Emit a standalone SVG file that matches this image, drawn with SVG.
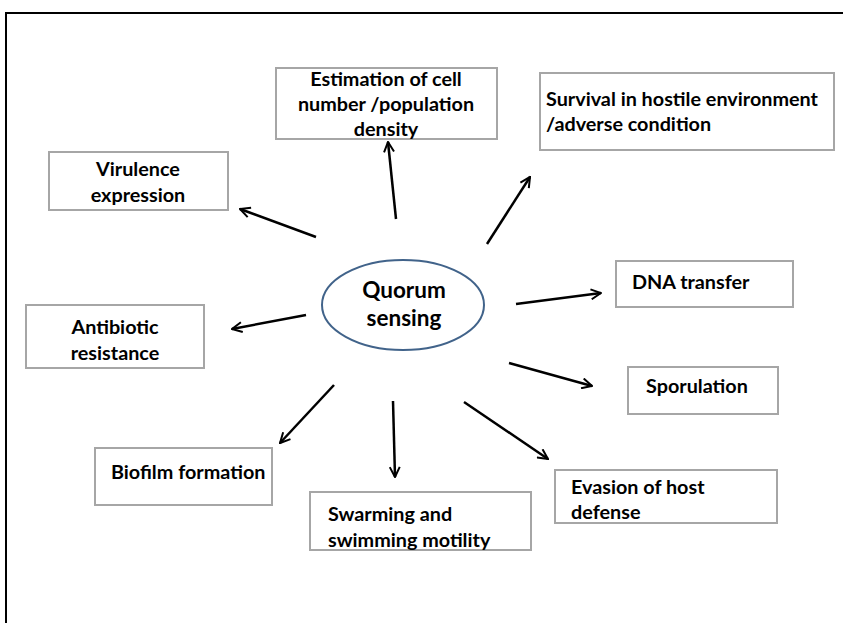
<svg xmlns="http://www.w3.org/2000/svg" width="843" height="623" viewBox="0 0 843 623">
<defs>
<style>
.box{fill:#fff;stroke:#a6a6a6;stroke-width:2}
.t{font-family:Lato,"Open Sans",sans-serif;font-weight:bold;font-size:19.8px;fill:#000}
.q{font-size:22.5px}
.c{text-anchor:middle}
.arr{stroke:#000;stroke-width:2.5;fill:none;marker-end:url(#ah)}
</style>
<marker id="ah" viewBox="0 0 12 12" refX="11" refY="6" markerWidth="12" markerHeight="12" markerUnits="userSpaceOnUse" orient="auto">
<path d="M1,1 L11,6 L1,11" fill="none" stroke="#000" stroke-width="2"/>
</marker>
</defs>
<rect width="843" height="623" fill="#fff"/>
<path d="M6,623 L6,13 L843,13" fill="none" stroke="#000" stroke-width="2"/>
<g id="connectors">
<line class="arr" x1="396" y1="219" x2="388" y2="142"/>
<line class="arr" x1="487" y1="244" x2="530" y2="177"/>
<line class="arr" x1="316" y1="237" x2="240" y2="209"/>
<line class="arr" x1="516" y1="304" x2="601" y2="293"/>
<line class="arr" x1="306" y1="315" x2="232" y2="329"/>
<line class="arr" x1="509" y1="363" x2="592" y2="386"/>
<line class="arr" x1="334" y1="385" x2="280" y2="443"/>
<line class="arr" x1="393" y1="401" x2="395" y2="477"/>
<line class="arr" x1="464" y1="402" x2="548" y2="459"/>
</g>
<g id="quorum">
<ellipse cx="403" cy="305" rx="81" ry="45" fill="#fff" stroke="#41638a" stroke-width="2"/>
<text class="t q c" x="404" y="298">Quorum</text>
<text class="t q c" x="404" y="326">sensing</text>
</g>
<g id="estimation">
<rect class="box" x="276" y="68" width="221" height="71"/>
<text class="t c" x="386" y="86">Estimation of cell</text>
<text class="t c" x="386" y="111">number /population</text>
<text class="t c" x="386" y="136">density</text>
</g>
<g id="survival">
<rect class="box" x="540" y="73" width="294" height="77"/>
<text class="t" x="546" y="106">Survival in hostile environment</text>
<text class="t" x="546" y="131">/adverse condition</text>
</g>
<g id="virulence">
<rect class="box" x="49" y="152" width="179" height="58"/>
<text class="t c" x="138" y="176">Virulence</text>
<text class="t c" x="138" y="202">expression</text>
</g>
<g id="dna">
<rect class="box" x="616" y="261" width="177" height="46"/>
<text class="t" x="632" y="289">DNA transfer</text>
</g>
<g id="antibiotic">
<rect class="box" x="26" y="305" width="178" height="63"/>
<text class="t c" x="115" y="334">Antibiotic</text>
<text class="t c" x="115" y="360">resistance</text>
</g>
<g id="sporulation">
<rect class="box" x="628" y="367" width="150" height="47"/>
<text class="t" x="646" y="393">Sporulation</text>
</g>
<g id="biofilm">
<rect class="box" x="95" y="448" width="177" height="57"/>
<text class="t" x="111" y="479">Biofilm formation</text>
</g>
<g id="evasion">
<rect class="box" x="555" y="470" width="222" height="53"/>
<text class="t" x="571" y="494">Evasion of host</text>
<text class="t" x="571" y="519">defense</text>
</g>
<g id="swarming">
<rect class="box" x="310" y="492" width="221" height="58"/>
<text class="t" x="328" y="521">Swarming and</text>
<text class="t" x="328" y="547">swimming motility</text>
</g>
</svg>
